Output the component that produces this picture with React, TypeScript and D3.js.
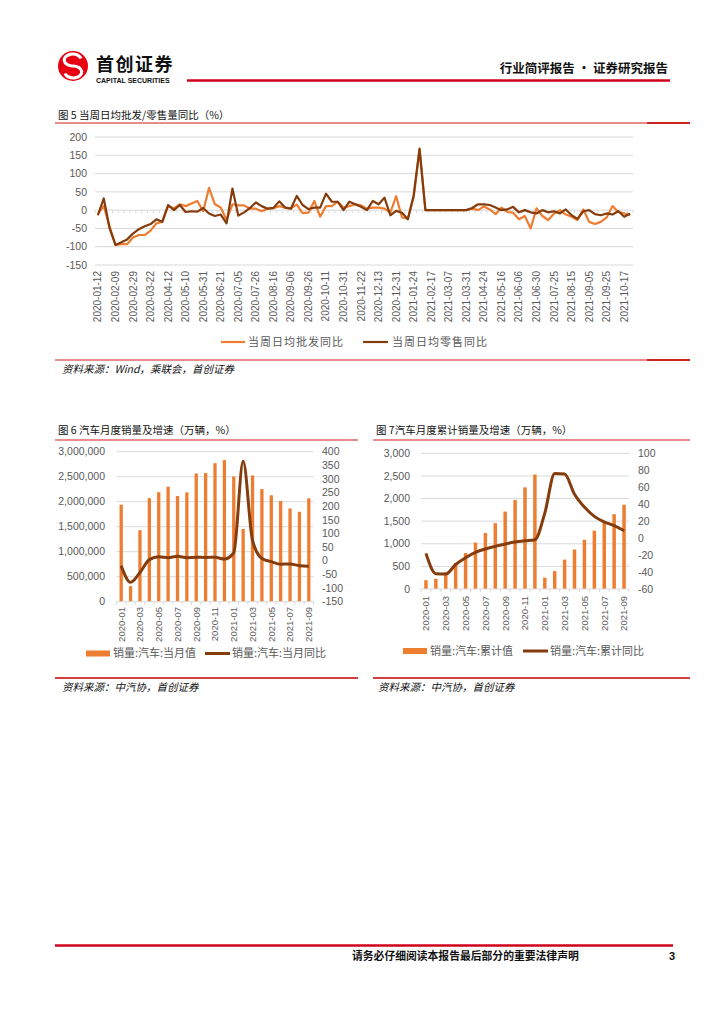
import React from 'react';
import * as d3 from 'd3';

const FONT = "'Liberation Sans', 'Noto Sans CJK SC', sans-serif";
const CJK = "'Noto Sans CJK SC', sans-serif";
const ORANGE = '#ED7D31';
const BROWN = '#843C0C';
const GRID = '#D9D9D9';
const LABEL = '#595959';
const RED = '#C00000';

// ---------- Figure 5: weekly data ----------
const weekDates = [
  '2020-01-12', '2020-01-19', '2020-02-02', '2020-02-09', '2020-02-16', '2020-02-23', '2020-02-29', '2020-03-08',
  '2020-03-15', '2020-03-22', '2020-03-29', '2020-04-05', '2020-04-12', '2020-04-19', '2020-04-30', '2020-05-10',
  '2020-05-17', '2020-05-24', '2020-05-31', '2020-06-07', '2020-06-14', '2020-06-21', '2020-06-28', '2020-06-30',
  '2020-07-05', '2020-07-12', '2020-07-19', '2020-07-26', '2020-07-31', '2020-08-09', '2020-08-16', '2020-08-23',
  '2020-08-31', '2020-09-06', '2020-09-13', '2020-09-20', '2020-09-26', '2020-09-30', '2020-10-08', '2020-10-11',
  '2020-10-18', '2020-10-25', '2020-10-31', '2020-11-08', '2020-11-15', '2020-11-22', '2020-11-30', '2020-12-06',
  '2020-12-13', '2020-12-20', '2020-12-27', '2020-12-31', '2021-01-10', '2021-01-17', '2021-01-24', '2021-01-31',
  '2021-02-07', '2021-02-17', '2021-02-21', '2021-02-28', '2021-03-07', '2021-03-14', '2021-03-21', '2021-03-31',
  '2021-04-11', '2021-04-18', '2021-04-24', '2021-04-30', '2021-05-09', '2021-05-16', '2021-05-23', '2021-05-31',
  '2021-06-06', '2021-06-13', '2021-06-20', '2021-06-30', '2021-07-11', '2021-07-18', '2021-07-25', '2021-07-31',
  '2021-08-08', '2021-08-15', '2021-08-22', '2021-08-31', '2021-09-05', '2021-09-12', '2021-09-19', '2021-09-25',
  '2021-09-30', '2021-10-10', '2021-10-17', '2021-10-24',
];
const wholesaleYoY = [
  -9, 11, -45, -95, -93, -93, -75, -68, -68, -56, -36, -32, 11, 5, 16, 11,
  18, 25, -3, 61, 16, 7, -27, 16, 13, 13, 4, 4, -3, 4, 5, 11,
  7, 5, 15, -8, -7, 25, -18, 11, 11, 23, 7, 11, 16, 13, 4, 7,
  7, 4, -7, 38, -20, -23, 36, 165, 0, 0, 0, 0, 0, 0, 0, 0,
  4, 0, 10, 2, -11, 7, -5, -7, -25, -16, -50, 5, -16, -27, -9, 0,
  -12, -18, -27, 2, -32, -38, -32, -20, 11, -5, -9, -14,
];
const retailYoY = [
  -14, 32, -50, -95, -88, -80, -64, -52, -44, -38, -25, -32, 14, 0, 14, -5,
  -3, -4, 6, -9, -16, -12, -36, 59, -15, -6, 6, 21, 11, 4, 6, 24,
  7, 4, 39, 14, 3, 7, 7, 45, 23, 23, 0, 23, 16, 9, 0, 25,
  16, 34, -14, -2, -7, -25, 41, 168, 0, 0, 0, 0, 0, 0, 0, 0,
  6, 16, 16, 14, 7, 0, 2, 9, -6, 0, -6, -9, 0, -6, -3, -9,
  2, -14, -24, -3, 0, -11, -14, -9, -12, -3, -18, -9,
];
const topTicks = [200, 150, 100, 50, 0, -50, -100, -150];

// ---------- Figures 6 & 7: monthly data ----------
const months = [
  '2020-01', '2020-02', '2020-03', '2020-04', '2020-05', '2020-06', '2020-07', '2020-08', '2020-09', '2020-10',
  '2020-11', '2020-12', '2021-01', '2021-02', '2021-03', '2021-04', '2021-05', '2021-06', '2021-07', '2021-08', '2021-09',
];
const monthlySales = [
  1941000, 310000, 1430000, 2070000, 2190000, 2300000, 2113000, 2186000, 2565000, 2573000,
  2770000, 2831000, 2503000, 1455000, 2526000, 2252000, 2128000, 2015000, 1864000, 1799000, 2067000,
];
const monthlyYoY = [
  -18, -79, -43, 4.4, 14.5, 11.6, 16.4, 11.6, 12.8, 12.5,
  12.6, 6.4, 29.5, 365, 74.9, 8.6, -3.1, -12.4, -11.9, -17.8, -19.6,
];
const cumSales = [
  194, 225, 367, 576, 795, 1026, 1237, 1455, 1712, 1969,
  2247, 2531, 250, 396, 649, 874, 1087, 1289, 1474, 1654, 1862,
];
const cumYoY = [
  -18, -42, -42.4, -31.1, -23.1, -16.9, -12.8, -9.7, -6.9, -4.7,
  -3.2, -1.9, 29.5, 76.3, 75.6, 51.8, 36.6, 25.6, 19.1, 14.6, 8.7,
];
const leftTicks6 = [0, 500000, 1000000, 1500000, 2000000, 2500000, 3000000];
const rightTicks6 = [-150, -100, -50, 0, 50, 100, 150, 200, 250, 300, 350, 400];
const leftTicks7 = [0, 500, 1000, 1500, 2000, 2500, 3000];
const rightTicks7 = [-60, -40, -20, 0, 20, 40, 60, 80, 100];

const fmtComma = d3.format(',');

function TopChart() {
  const x = d3.scaleBand<number>().domain(d3.range(weekDates.length)).range([95, 633]);
  const y = d3.scaleLinear().domain([-150, 200]).range([265, 137]);
  const bw = x.bandwidth();
  const cx = (i: number) => (x(i) as number) + bw / 2;
  const line = d3.line<number>().x((_, i) => cx(i)).y((d) => y(d));
  const y0 = y(0);
  return (
    <g>
      {topTicks.map((t) => (
        <g key={t}>
          <line x1={95} x2={633} y1={y(t)} y2={y(t)} stroke={GRID} strokeWidth={1} />
          <text x={87} y={y(t)} dy="0.35em" textAnchor="end" fontSize={10.5} fill={LABEL} fontFamily={FONT}>{t}</text>
        </g>
      ))}
      {d3.range(weekDates.length + 1).map((i) => (
        <line key={i} x1={95 + i * bw} x2={95 + i * bw} y1={y0} y2={y0 + 3} stroke={GRID} strokeWidth={1} />
      ))}
      {weekDates.map((d, i) => i % 3 === 0 ? (
        <text key={d} transform={`translate(${cx(i)},${271}) rotate(-90)`} textAnchor="end" dy="0.35em" fontSize={10} fill={LABEL} fontFamily={FONT}>{d}</text>
      ) : null)}
      <path d={line(wholesaleYoY) as string} fill="none" stroke={ORANGE} strokeWidth={2.2} strokeLinejoin="round" />
      <path d={line(retailYoY) as string} fill="none" stroke={BROWN} strokeWidth={2.2} strokeLinejoin="round" />
      <line x1={221} x2={245} y1={342} y2={342} stroke={ORANGE} strokeWidth={2.2} />
      <text x={248} y={342} dy="0.35em" fontSize={11} letterSpacing={1} fill={LABEL} fontFamily={CJK}>当周日均批发同比</text>
      <line x1={363} x2={388} y1={342} y2={342} stroke={BROWN} strokeWidth={2.2} />
      <text x={392} y={342} dy="0.35em" fontSize={11} letterSpacing={1} fill={LABEL} fontFamily={CJK}>当周日均零售同比</text>
    </g>
  );
}

type ComboProps = {
  x0: number; x1: number; yTop: number; yBot: number;
  bars: number[]; lineVals: number[];
  lDomain: [number, number]; rDomain: [number, number];
  lTicks: number[]; rTicks: number[];
  lLabelX: number; rLabelX: number; xLabelTop: number;
  pad: number;
};

function Combo(p: ComboProps) {
  const x = d3.scaleBand<string>().domain(months).range([p.x0, p.x1]).paddingInner(p.pad).paddingOuter(p.pad / 2);
  const step = x.step();
  const yl = d3.scaleLinear().domain(p.lDomain).range([p.yBot, p.yTop]);
  const yr = d3.scaleLinear().domain(p.rDomain).range([p.yBot, p.yTop]);
  const cx = (m: string) => (x(m) as number) + x.bandwidth() / 2;
  const line = d3.line<number>().x((_, i) => cx(months[i])).y((d) => yr(d)).curve(d3.curveMonotoneX);
  return (
    <g>
      {p.lTicks.map((t) => (
        <g key={t}>
          {t !== 0 && <line x1={p.x0} x2={p.x1} y1={yl(t)} y2={yl(t)} stroke={GRID} strokeWidth={1} />}
          <text x={p.lLabelX} y={yl(t)} dy="0.35em" textAnchor="end" fontSize={10.5} fill={LABEL} fontFamily={FONT}>{fmtComma(t)}</text>
        </g>
      ))}
      {p.rTicks.map((t) => (
        <text key={t} x={p.rLabelX} y={yr(t)} dy="0.35em" textAnchor="start" fontSize={10.5} fill={LABEL} fontFamily={FONT}>{t}</text>
      ))}
      {months.map((m, i) => (
        <rect key={m} x={x(m)} y={yl(p.bars[i])} width={x.bandwidth()} height={p.yBot - yl(p.bars[i])} fill={ORANGE} />
      ))}
      <line x1={p.x0} x2={p.x1} y1={p.yBot} y2={p.yBot} stroke={GRID} strokeWidth={1} />
      {d3.range(months.length + 1).map((i) => (
        <line key={i} x1={p.x0 + i * step} x2={p.x0 + i * step} y1={p.yBot} y2={p.yBot + 3} stroke={GRID} strokeWidth={1} />
      ))}
      {months.map((m, i) => i % 2 === 0 ? (
        <text key={m} transform={`translate(${cx(m)},${p.xLabelTop}) rotate(-90)`} textAnchor="end" dy="0.35em" fontSize={9.5} fill={LABEL} fontFamily={FONT}>{m}</text>
      ) : null)}
      <path d={line(p.lineVals) as string} fill="none" stroke={BROWN} strokeWidth={3} strokeLinejoin="round" />
    </g>
  );
}

export default function App() {
  return (
    <svg width={724} height={1024} viewBox="0 0 724 1024" style={{ position: 'absolute', left: 0, top: 0, background: '#fff' }}>
      <rect x={0} y={0} width={724} height={1024} fill="#fff" />
      {/* Header */}
      <circle cx={73} cy={66} r={15} fill="#E60012" />
      <path d="M 81 58.5 A 8.5 6 0 1 0 73 66 A 8.5 6 0 1 1 65 73.5" fill="none" stroke="#fff" strokeWidth={3.2} />
      <text x={96} y={70.5} fontSize={18} fontWeight="bold" fill="#111" fontFamily={CJK} letterSpacing={1.5}>首创证券</text>
      <text x={96} y={82.5} fontSize={7} fontWeight="bold" fill="#111" fontFamily={FONT}>CAPITAL SECURITIES</text>
      <line x1={187} x2={670} y1={80.5} y2={80.5} stroke="#D0021B" strokeWidth={2.5} />
      <text x={668} y={73} textAnchor="end" fontSize={12.5} fontWeight="bold" fill="#111" fontFamily={CJK}>行业简评报告 · 证券研究报告</text>

      {/* Figure 5 */}
      <text x={58} y={119} fontSize={10.5} fill="#111" fontFamily={CJK}>图 5 当周日均批发/零售量同比（%）</text>
      <line x1={55} x2={690} y1={123} y2={123} stroke="#E06666" strokeWidth={1.5} />
      <line x1={647} x2={690} y1={123} y2={123} stroke={RED} strokeWidth={1.5} />
      <TopChart />
      <line x1={55} x2={690} y1={360} y2={360} stroke="#E06666" strokeWidth={1.5} />
      <line x1={647} x2={690} y1={360} y2={360} stroke={RED} strokeWidth={1.5} />
      <text x={62} y={373} fontSize={10.5} fontStyle="italic" fill="#111" fontFamily={CJK}>资料来源：Wind，乘联会，首创证券</text>

      {/* Figure 6 */}
      <text x={58} y={434} fontSize={10.5} fill="#111" fontFamily={CJK}>图 6 汽车月度销量及增速（万辆，%）</text>
      <line x1={55} x2={358} y1={440} y2={440} stroke="#E06666" strokeWidth={1.5} />
      <Combo x0={116.5} x1={313.5} yTop={451.7} yBot={601.7} bars={monthlySales} lineVals={monthlyYoY}
        lDomain={[0, 3000000]} rDomain={[-150, 400]} lTicks={leftTicks6} rTicks={rightTicks6}
        lLabelX={105} rLabelX={322} xLabelTop={607} pad={0.65} />
      <rect x={86} y={650.5} width={24} height={6} fill={ORANGE} />
      <text x={113} y={653.5} dy="0.35em" fontSize={11} fill={LABEL} fontFamily={CJK}>销量:汽车:当月值</text>
      <line x1={205} x2={230} y1={653.5} y2={653.5} stroke={BROWN} strokeWidth={3} />
      <text x={232} y={653.5} dy="0.35em" fontSize={11} fill={LABEL} fontFamily={CJK}>销量:汽车:当月同比</text>
      <line x1={55} x2={358} y1={678} y2={678} stroke={RED} strokeWidth={1.5} />
      <text x={62} y={691} fontSize={10.5} fontStyle="italic" fill="#111" fontFamily={CJK}>资料来源：中汽协，首创证券</text>

      {/* Figure 7 */}
      <text x={376} y={434} fontSize={10.5} fill="#111" fontFamily={CJK}>图 7汽车月度累计销量及增速（万辆，%）</text>
      <line x1={373} x2={690} y1={440} y2={440} stroke="#E06666" strokeWidth={1.5} />
      <Combo x0={421} x1={629} yTop={453.3} yBot={589} bars={cumSales} lineVals={cumYoY}
        lDomain={[0, 3000]} rDomain={[-60, 100]} lTicks={leftTicks7} rTicks={rightTicks7}
        lLabelX={410} rLabelX={638} xLabelTop={596} pad={0.65} />
      <rect x={403} y={648} width={24} height={6} fill={ORANGE} />
      <text x={430} y={651} dy="0.35em" fontSize={11} fill={LABEL} fontFamily={CJK}>销量:汽车:累计值</text>
      <line x1={523} x2={548} y1={651} y2={651} stroke={BROWN} strokeWidth={3} />
      <text x={550} y={651} dy="0.35em" fontSize={11} fill={LABEL} fontFamily={CJK}>销量:汽车:累计同比</text>
      <line x1={373} x2={690} y1={678} y2={678} stroke={RED} strokeWidth={1.5} />
      <text x={378} y={691} fontSize={10.5} fontStyle="italic" fill="#111" fontFamily={CJK}>资料来源：中汽协，首创证券</text>

      {/* Footer */}
      <line x1={55} x2={673} y1={945.5} y2={945.5} stroke="#D0021B" strokeWidth={2.5} />
      <text x={352} y={960} fontSize={10.8} fontWeight="bold" fill="#111" fontFamily={CJK}>请务必仔细阅读本报告最后部分的重要法律声明</text>
      <text x={669} y={960} fontSize={11} fontWeight="bold" fill="#111" fontFamily={FONT}>3</text>
    </svg>
  );
}
